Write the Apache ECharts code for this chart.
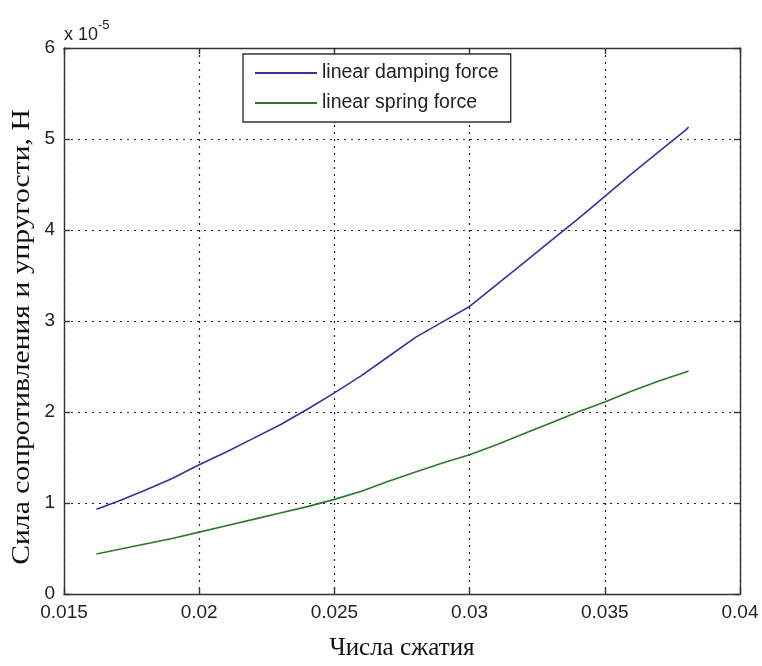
<!DOCTYPE html>
<html>
<head>
<meta charset="utf-8">
<script src="https://cdn.jsdelivr.net/npm/echarts@6/dist/echarts.min.js"></script>
<style>html,body{margin:0;padding:0;background:#fff;}#c{width:762px;height:666px;}</style>
</head>
<body>
<div id="c"></div>
<script>
// x values (compression number)
const xValues = [0.0162, 0.017, 0.018, 0.019, 0.020, 0.021, 0.022, 0.023, 0.024, 0.025, 0.026, 0.027, 0.028, 0.029, 0.030, 0.031, 0.032, 0.033, 0.034, 0.035, 0.036, 0.037, 0.038, 0.0381];
// forces in units of 1e-5 N
const dampingForce = [0.93, 1.02, 1.14, 1.27, 1.42, 1.56, 1.71, 1.86, 2.03, 2.21, 2.40, 2.61, 2.82, 2.99, 3.16, 3.40, 3.64, 3.88, 4.12, 4.37, 4.62, 4.86, 5.10, 5.13];
const springForce  = [0.44, 0.49, 0.55, 0.61, 0.68, 0.75, 0.82, 0.89, 0.96, 1.04, 1.13, 1.24, 1.34, 1.44, 1.53, 1.64, 1.76, 1.88, 2.00, 2.11, 2.23, 2.34, 2.44, 2.45];
const seriesNames = ['linear damping force', 'linear spring force'];
const xTickLabels = ['0.015', '0.02', '0.025', '0.03', '0.035', '0.04'];
const yTickLabels = ['0', '1', '2', '3', '4', '5', '6'];
const xTitle = 'Числа сжатия';
const yTitle = 'Сила сопротивления и упругости, Н';

const chart = echarts.init(document.getElementById('c'), null, {renderer: 'canvas'});
const sans = 'Liberation Sans, Arial, sans-serif';
const narrow = '"Liberation Sans Narrow", "Arial Narrow", "Liberation Sans", sans-serif';
const serif = 'Liberation Serif, Times New Roman, serif';
const tickFont = {fontFamily: narrow, fontSize: 19, color: '#222'};
const axisLineStyle = {color: '#333', width: 1.4};
const split = {show: true, lineStyle: {color: '#222', type: [2, 5], width: 1.2}};

function pair(xs, ys) { return xs.map((x, i) => [x, ys[i]]); }

chart.setOption({
  animation: false,
  backgroundColor: '#fff',
  grid: {left: 64, right: 22, top: 48, bottom: 69, containLabel: false},
  legend: {
    orient: 'vertical', left: 243, top: 54, width: 270,
    backgroundColor: '#fff', borderColor: '#333', borderWidth: 1.4, borderRadius: 0,
    padding: [9, 12, 9, 12], itemGap: 10,
    itemWidth: 62, itemHeight: 2, icon: 'rect',
    textStyle: {fontFamily: sans, fontSize: 19.5, color: '#222', padding: [0, 0, 0, 0]},
    data: seriesNames
  },
  graphic: [{
    type: 'text', left: 64, top: 19,
    style: {
      text: '{a|x 10}{b|-5}',
      rich: {
        a: {fontFamily: sans, fontSize: 18, fill: '#222', verticalAlign: 'bottom'},
        b: {fontFamily: sans, fontSize: 13, fill: '#222', verticalAlign: 'top', padding: [0, 0, 12, 0]}
      }
    }
  }, {
    type: 'text', x: 22, y: 337, rotation: Math.PI / 2, scaleX: 1.14,
    style: {text: yTitle, fontFamily: serif, fontSize: 26, fill: '#111', textAlign: 'center', textVerticalAlign: 'middle'}
  }],
  xAxis: [{
    type: 'value', min: 0.015, max: 0.04, interval: 0.005,
    name: xTitle, nameLocation: 'middle', nameGap: 42,
    nameTextStyle: {fontFamily: serif, fontSize: 25, color: '#111'},
    axisLine: {show: true, onZero: false, lineStyle: axisLineStyle},
    axisTick: {show: true, inside: true, length: 6, lineStyle: axisLineStyle},
    axisLabel: Object.assign({margin: 9, formatter: v => xTickLabels[Math.round((v - 0.015) / 0.005)]}, tickFont),
    splitLine: split
  }, {
    type: 'value', position: 'top', min: 0.015, max: 0.04, interval: 0.005,
    axisLine: {show: true, onZero: false, lineStyle: axisLineStyle},
    axisTick: {show: true, inside: true, length: 6, lineStyle: axisLineStyle},
    axisLabel: {show: false}, splitLine: {show: false}
  }],
  yAxis: [{
    type: 'value', min: 0, max: 6, interval: 1,
    axisLine: {show: true, onZero: false, lineStyle: axisLineStyle},
    axisTick: {show: true, inside: true, length: 6, lineStyle: axisLineStyle},
    axisLabel: Object.assign({margin: 9, formatter: v => yTickLabels[Math.round(v)]}, tickFont),
    splitLine: split
  }, {
    type: 'value', position: 'right', min: 0, max: 6, interval: 1,
    axisLine: {show: true, onZero: false, lineStyle: axisLineStyle},
    axisTick: {show: true, inside: true, length: 6, lineStyle: axisLineStyle},
    axisLabel: {show: false}, splitLine: {show: false}
  }],
  series: [{
    name: seriesNames[0], type: 'line', showSymbol: false, symbol: 'none',
    data: pair(xValues, dampingForce),
    lineStyle: {color: '#33339e', width: 1.6}, itemStyle: {color: '#33339e'}
  }, {
    name: seriesNames[1], type: 'line', showSymbol: false, symbol: 'none',
    data: pair(xValues, springForce),
    lineStyle: {color: '#2a7a2a', width: 1.6}, itemStyle: {color: '#2a7a2a'}
  }]
});
</script>
</body>
</html>
